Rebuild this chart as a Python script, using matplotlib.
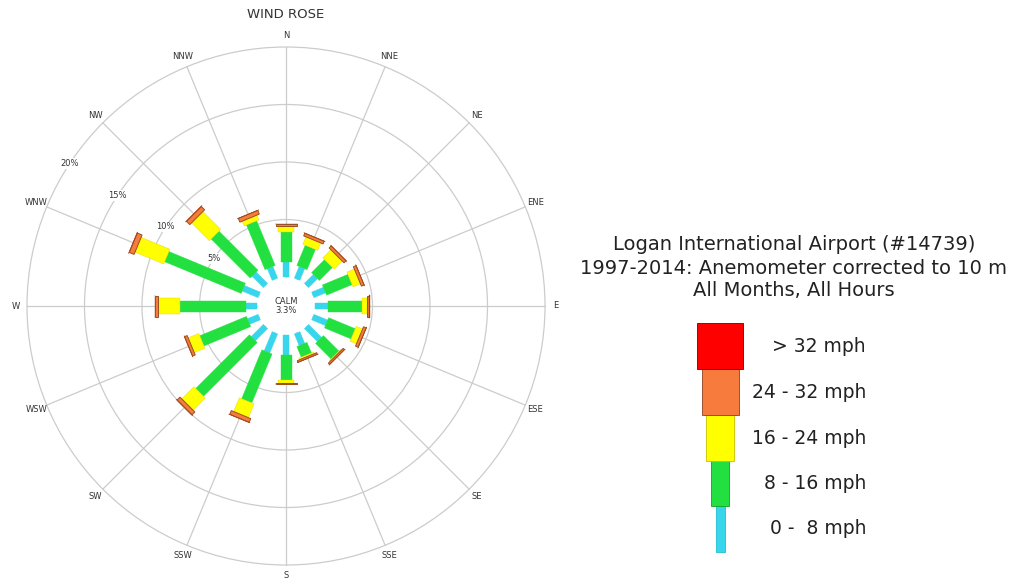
import numpy as np
import matplotlib
matplotlib.use("Agg")
import matplotlib.pyplot as plt
from matplotlib.patches import Polygon, Circle, Rectangle

# ---------------- data ----------------
directions = ["N", "NNE", "NE", "ENE", "E", "ESE", "SE", "SSE",
              "S", "SSW", "SW", "WSW", "W", "WNW", "NW", "NNW"]
# frequency (%) per speed class and direction
spd_0_8   = [1.3, 1.1, 1.1, 1.1, 1.1, 1.3, 1.6, 1.1, 1.7, 1.8, 1.5, 1.0, 1.0, 1.5, 1.4, 1.1]
spd_8_16  = [2.6, 1.9, 1.6, 2.4, 3.0, 2.5, 1.9, 1.0, 2.2, 4.6, 6.6, 4.4, 5.7, 7.2, 4.8, 4.2]
spd_16_24 = [0.5, 0.7, 1.0, 0.7, 0.45, 0.6, 0.1, 0.15, 0.25, 1.3, 1.5, 1.0, 1.9, 2.7, 2.2, 0.45]
spd_24_32 = [0.2, 0.25, 0.25, 0.25, 0.17, 0.25, 0.15, 0.15, 0.1, 0.35, 0.35, 0.25, 0.25, 0.45, 0.4, 0.35]
spd_32_up = [0.02, 0.02, 0.02, 0.02, 0.02, 0.02, 0.02, 0.02, 0.02, 0.03, 0.03, 0.02, 0.03, 0.04, 0.04, 0.02]
speed_labels = ["0 -  8 mph", "8 - 16 mph", "16 - 24 mph", "24 - 32 mph", "> 32 mph"]
colors = ["#38D6EC", "#22E040", "#FFFF00", "#F77B3C", "#FF0000"]
edge_colors = ["#38D6EC", "#22E040", "#E6D400", "#9A5020", "#9A5020"]
ring_values = [5, 10, 15, 20]
ring_labels = ["5%", "10%", "15%", "20%"]
calm_label = "CALM\n3.3%"
title = "WIND ROSE"
station_lines = ["Logan International Airport (#14739)",
                 "1997-2014: Anemometer corrected to 10 m",
                 "All Months, All Hours"]

# ---------------- layout ----------------
W, H = 1027, 579
fig = plt.figure(figsize=(W / 100, H / 100), dpi=100)
fig.patch.set_facecolor("white")

px_per_pct = 11.5
cx, cy = 286, 306
R0 = 29 / px_per_pct          # calm circle radius (in % units)
rose_w = 572
ax = fig.add_axes([0, 0, rose_w / W, 1])
ax.set_xlim((0 - cx) / px_per_pct, (rose_w - cx) / px_per_pct)
ax.set_ylim(-(H - cy) / px_per_pct, cy / px_per_pct)
ax.axis("off")

grid_c = "#cccccc"
text_c = "#333333"
outer = R0 + ring_values[-1]

# rings
for rv in ring_values:
    ax.add_patch(Circle((0, 0), R0 + rv, fill=False, ec=grid_c, lw=0.9, zorder=1))

# spokes + compass labels
bearings = np.arange(len(directions)) * 360.0 / len(directions)
for d, b in zip(directions, bearings):
    br = np.deg2rad(b)
    ux, uy = np.sin(br), np.cos(br)
    ax.plot([R0 * ux, outer * ux], [R0 * uy, outer * uy], color=grid_c, lw=0.9, zorder=1)
    rl = outer + 11 / px_per_pct
    ax.text(rl * ux, rl * uy, d, ha="center", va="center", fontsize=6,
            color=text_c, zorder=5)

# ring labels
lab_ang = np.deg2rad(146.7)
for rv, rlab in zip(ring_values, ring_labels):
    rr = R0 + rv
    ax.text(rr * np.cos(lab_ang), rr * np.sin(lab_ang), rlab, ha="center", va="center",
            fontsize=6, color=text_c, zorder=5,
            bbox=dict(boxstyle="square,pad=0.1", fc="white", ec="none"))

# bars
series = [spd_0_8, spd_8_16, spd_16_24, spd_24_32, spd_32_up]
widths_px = [6, 11, 16, 21, 23]
edge_lw = [0.3, 0.3, 0.3, 0.7, 0.3]
cum = np.zeros(len(directions))
for k, vals in enumerate(series):
    vals = np.asarray(vals)
    w = widths_px[k] / px_per_pct
    for i, b in enumerate(bearings):
        br = np.deg2rad(b)
        u = np.array([np.sin(br), np.cos(br)])
        n = np.array([np.cos(br), -np.sin(br)])
        r1 = R0 + cum[i]
        r2 = R0 + cum[i] + vals[i]
        pts = [r1 * u + n * w / 2, r2 * u + n * w / 2, r2 * u - n * w / 2, r1 * u - n * w / 2]
        ax.add_patch(Polygon(pts, closed=True, fc=colors[k], ec=edge_colors[k],
                             lw=edge_lw[k], zorder=3 + k * 0.1))
    cum += vals

ax.text(0, 0, calm_label, ha="center", va="center", fontsize=6, color=text_c,
        linespacing=0.9, zorder=6)
ax.text(0, (cy - 15) / px_per_pct, title, ha="center", va="center", fontsize=9.5,
        color=text_c)

# ---------------- right-hand legend ----------------
lax = fig.add_axes([0, 0, 1, 1], facecolor="none")
lax.set_xlim(0, W)
lax.set_ylim(H, 0)
lax.axis("off")

for line, y in zip(station_lines, [245, 268, 291]):
    lax.text(794, y, line, ha="center", va="center", fontsize=14, color="#222222")

leg_w = [9, 18, 28, 37, 46]
box_top = [506, 461, 415, 369, 323]
box_h = [46, 45, 46, 46, 46]
leg_edges = ["#20C0D0", "#10A030", "#C8C000", "#904020", "#700000"]
for k in range(len(series)):
    lax.add_patch(Rectangle((720 - leg_w[k] / 2, box_top[k]), leg_w[k], box_h[k],
                            fc=colors[k], ec=leg_edges[k], lw=0.6))
    lax.text(866, box_top[k] + box_h[k] / 2, speed_labels[k], ha="right", va="center",
             fontsize=13.5, color="#222222")

fig.savefig("out.png", dpi=100, facecolor="white")
